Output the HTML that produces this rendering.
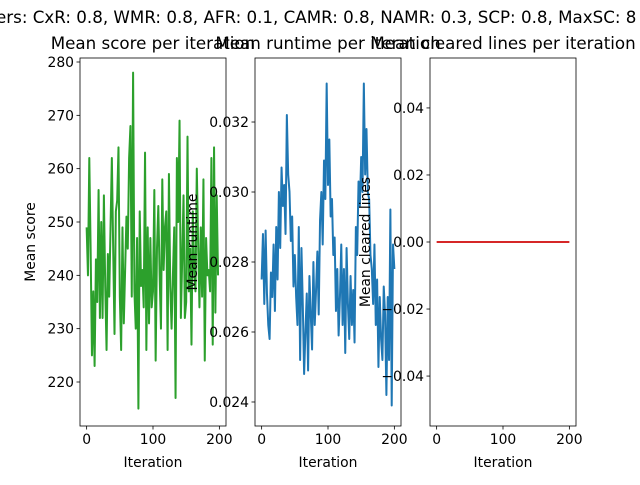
<!DOCTYPE html>
<html><head><meta charset="utf-8"><style>body{margin:0;background:#fff}svg{font-family:"DejaVu Sans","Liberation Sans",sans-serif}</style></head>
<body>
<svg id="c" width="640" height="480" viewBox="0 0 640 480">
<rect width="640" height="480" fill="#fff"/>
<text x="-4" y="23" font-size="16.7">ers: CxR: 0.8, WMR: 0.8, AFR: 0.1, CAMR: 0.8, NAMR: 0.3, SCP: 0.8, MaxSC: 8</text>
</svg>
<script>
const scoreValues=[249,240,262,245,225,237,223,243,235,256,232,250,232,255,238,226,244,236,249,262,245,229,252,254,264,236,226,249,231,241,251,245,262,268,236,278,237,230,247,215,252,238,241,234,263,226,249,231,247,234,237,256,224,245,253,240,230,258,241,249,252,226,259,238,230,240,249,217,262,250,269,232,243,255,232,235,266,237,245,227,252,241,237,260,246,234,249,236,258,224,247,240,241,237,262,227,264,233,255,240];
const runtimeValues=[0.0275,0.0288,0.0268,0.0289,0.0271,0.0262,0.0258,0.0277,0.0270,0.0285,0.0266,0.0290,0.0275,0.0300,0.0284,0.0307,0.0296,0.0302,0.0288,0.0322,0.0305,0.0300,0.0286,0.0293,0.0273,0.0282,0.0270,0.0262,0.0290,0.0252,0.0284,0.0268,0.0248,0.0260,0.0271,0.0249,0.0276,0.0265,0.0255,0.0280,0.0262,0.0272,0.0283,0.0265,0.0292,0.0300,0.0285,0.0309,0.0298,0.0331,0.0302,0.0315,0.0293,0.0298,0.0282,0.0287,0.0266,0.0278,0.0259,0.0270,0.0285,0.0262,0.0278,0.0254,0.0284,0.0268,0.0258,0.0276,0.0262,0.0272,0.0257,0.0290,0.0282,0.0303,0.0296,0.0310,0.0300,0.0331,0.0305,0.0318,0.0300,0.0298,0.0282,0.0278,0.0268,0.0285,0.0262,0.0275,0.0250,0.0270,0.0258,0.0252,0.0273,0.0265,0.0242,0.0270,0.0252,0.0295,0.0239,0.0285,0.0278];
const clearedValues=[0,0];
const clearedIters=[0,200];
const xTicks=[0,100,200];
const scoreTicks=[220,230,240,250,260,270,280];
const runtimeTicks=[0.024,0.026,0.028,0.030,0.032];
const clearedTicks=[-0.04,-0.02,0.00,0.02,0.04];
const NS="http://www.w3.org/2000/svg";
const svg=document.getElementById('c');
function mk(t,a,p){const e=document.createElementNS(NS,t);for(const k in a)e.setAttribute(k,a[k]);(p||svg).appendChild(e);return e;}
function panel(o){
 const g=mk('g',{});
 
 
 const L=o.x0,R=o.x0+146,T=58,B=426;
 const sx=v=>L+(v+10)/220*146;
 const sy=v=>B-(v-o.ymin)/(o.ymax-o.ymin)*(B-T);
 let d='';
 o.ys.forEach((v,i)=>{d+=(i?'L':'M')+sx(o.xs?o.xs[i]:i*2).toFixed(2)+','+sy(v).toFixed(2);});
 const ln=mk('path',{d:d,fill:'none',stroke:o.color,'stroke-width':2,'stroke-linejoin':'round'},g);
 
 
 mk('rect',{x:L,y:T,width:146,height:B-T,fill:'none',stroke:'#000','stroke-width':0.8},g);
 xTicks.forEach(t=>{const x=sx(t);mk('line',{x1:x,x2:x,y1:B,y2:B+3.5,stroke:'#000','stroke-width':0.8},g);
  const tx=mk('text',{x:x,y:B+18,'font-size':13.9,'text-anchor':'middle'},g);tx.textContent=t;
  
  });
 o.ticks.forEach(t=>{const y=sy(t);mk('line',{x1:L-3.5,x2:L,y1:y,y2:y,stroke:'#000','stroke-width':0.8},g);
  const tx=mk('text',{x:L-6,y:y+5,'font-size':13.9,'text-anchor':'end'},g);tx.textContent=o.fmt(t);
  
  });
 const xl=mk('text',{x:L+73,y:467,'font-size':13.9,'text-anchor':'middle'},g);xl.textContent='Iteration';
 
 
 const yl=mk('text',{x:0,y:0,'font-size':13.9,'text-anchor':'middle',transform:`translate(${o.ylx},242) rotate(-90)`},g);yl.textContent=o.ylabel;
 
 
 const tt=mk('text',{x:L+73,y:49,'font-size':16.7,'text-anchor':'middle'},g);tt.textContent=o.title;
 
 
}
panel({name:'score-panel',x0:80,ys:scoreValues,ymin:211.75,ymax:280.75,ticks:scoreTicks,fmt:t=>t,color:'#2ca02c',ylabel:'Mean score',ylx:35,title:'Mean score per iteration'});
panel({name:'runtime-panel',x0:255,ys:runtimeValues,ymin:0.023314,ymax:0.033829,ticks:runtimeTicks,fmt:t=>t.toFixed(3),color:'#1f77b4',ylabel:'Mean runtime',ylx:197,title:'Mean runtime per iteration'});
panel({name:'cleared-panel',x0:430,ys:clearedValues,xs:clearedIters,ymin:-0.0549,ymax:0.0549,ticks:clearedTicks,fmt:t=>t.toFixed(2).replace('-','\u2212'),color:'#d62728',ylabel:'Mean cleared lines',ylx:370,title:'Mean cleared lines per iteration'});
</script>
</body></html>
